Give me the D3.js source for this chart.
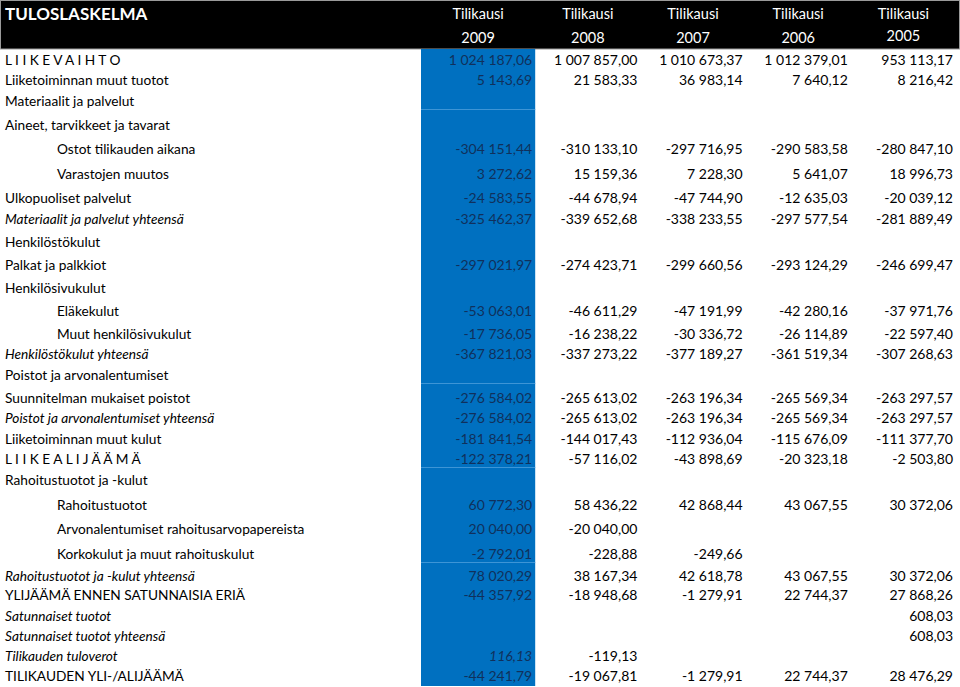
<!DOCTYPE html>
<html>
<head>
<meta charset="utf-8">
<script src="https://cdn.jsdelivr.net/npm/d3@7"></script>
<style>
  html, body { margin: 0; padding: 0; background: #fff; }
  svg { display: block; font-family: Lato, "Open Sans", sans-serif; }
</style>
</head>
<body>
<svg id="chart" width="960" height="687"></svg>
<script>
const TITLE = 'TULOSLASKELMA';
const YEARS = ['2009', '2008', '2007', '2006', '2005'];

const ROW_LABELS = [
  'L I I K E V A I H T O',
  'Liiketoiminnan muut tuotot',
  'Materiaalit ja palvelut',
  'Aineet, tarvikkeet ja tavarat',
  'Ostot tilikauden aikana',
  'Varastojen muutos',
  'Ulkopuoliset palvelut',
  'Materiaalit ja palvelut yhteensä',
  'Henkilöstökulut',
  'Palkat ja palkkiot',
  'Henkilösivukulut',
  'Eläkekulut',
  'Muut henkilösivukulut',
  'Henkilöstökulut yhteensä',
  'Poistot ja arvonalentumiset',
  'Suunnitelman mukaiset poistot',
  'Poistot ja arvonalentumiset yhteensä',
  'Liiketoiminnan muut kulut',
  'L I I K E A L I J Ä Ä M Ä',
  'Rahoitustuotot ja -kulut',
  'Rahoitustuotot',
  'Arvonalentumiset rahoitusarvopapereista',
  'Korkokulut ja muut rahoituskulut',
  'Rahoitustuotot ja -kulut yhteensä',
  'YLIJÄÄMÄ ENNEN SATUNNAISIA ERIÄ',
  'Satunnaiset tuotot',
  'Satunnaiset tuotot yhteensä',
  'Tilikauden tuloverot',
  'TILIKAUDEN YLI-/ALIJÄÄMÄ'
];
const INDENTED = [4, 5, 11, 12, 20, 21, 22];
const ITALIC_ROWS = [7, 13, 16, 23, 25, 26, 27];

const V2009 = [1024187.06, 5143.69, null, null, -304151.44, 3272.62, -24583.55, -325462.37, null, -297021.97, null, -53063.01, -17736.05, -367821.03, null, -276584.02, -276584.02, -181841.54, -122378.21, null, 60772.30, 20040.00, -2792.01, 78020.29, -44357.92, null, null, 116.13, -44241.79];
const V2008 = [1007857.00, 21583.33, null, null, -310133.10, 15159.36, -44678.94, -339652.68, null, -274423.71, null, -46611.29, -16238.22, -337273.22, null, -265613.02, -265613.02, -144017.43, -57116.02, null, 58436.22, -20040.00, -228.88, 38167.34, -18948.68, null, null, -119.13, -19067.81];
const V2007 = [1010673.37, 36983.14, null, null, -297716.95, 7228.30, -47744.90, -338233.55, null, -299660.56, null, -47191.99, -30336.72, -377189.27, null, -263196.34, -263196.34, -112936.04, -43898.69, null, 42868.44, null, -249.66, 42618.78, -1279.91, null, null, null, -1279.91];
const V2006 = [1012379.01, 7640.12, null, null, -290583.58, 5641.07, -12635.03, -297577.54, null, -293124.29, null, -42280.16, -26114.89, -361519.34, null, -265569.34, -265569.34, -115676.09, -20323.18, null, 43067.55, null, null, 43067.55, 22744.37, null, null, null, 22744.37];
const V2005 = [953113.17, 8216.42, null, null, -280847.10, 18996.73, -20039.12, -281889.49, null, -246699.47, null, -37971.76, -22597.40, -307268.63, null, -263297.57, -263297.57, -111377.70, -2503.80, null, 30372.06, null, null, 30372.06, 27868.26, 608.03, 608.03, null, 28476.29];
const SERIES = { '2009': V2009, '2008': V2008, '2007': V2007, '2006': V2006, '2005': V2005 };

// layout: spreadsheet row heights (px), like the sheet's own row sizes
const ROW_HEIGHTS = [19, 20, 21, 24, 24, 25, 24, 21, 23, 23, 23, 23, 23, 20, 21, 23, 20, 21, 20, 21, 25, 24, 25, 22, 19, 21, 20, 20, 20];
const HEADER_H = 49;
const BORDER_AFTER = [2, 14, 18, 22]; // faint cell borders inside the highlighted column

const fi = d3.formatLocale({ decimal: ',', thousands: '\u00a0', grouping: [3], currency: ['', ' €'], minus: '-' });
const fmt = fi.format(',.2f');

const svg = d3.select('#chart');
const W = 960;

// rows: cumulative tops mapped through a linear scale
const tops = [0];
ROW_HEIGHTS.forEach(h => tops.push(tops[tops.length - 1] + h));
const y = d3.scaleLinear().domain([0, tops[tops.length - 1]]).range([HEADER_H, HEADER_H + tops[tops.length - 1]]);
const rowBottom = i => y(tops[i + 1]);

const x = d3.scaleBand().domain(YEARS).range([430, 956]).paddingInner(0);
const colLeft = yr => yr === YEARS[0] ? x(yr) - 9 : x(yr);
const colRight = yr => x(yr) + x.bandwidth();
const colMid = yr => (colLeft(yr) + colRight(yr)) / 2;

// header band
svg.append('rect').attr('x', 0.5).attr('y', 0.5).attr('width', W - 1).attr('height', HEADER_H - 0.5)
  .attr('fill', '#000').attr('stroke', '#9a9a9a').attr('stroke-width', 1);
svg.append('text').attr('x', 5).attr('y', 20).attr('fill', '#fff')
  .attr('font-size', 17).attr('font-weight', 'bold').text(TITLE);

// highlighted current year column
svg.append('rect')
  .attr('x', colLeft(YEARS[0])).attr('y', HEADER_H)
  .attr('width', colRight(YEARS[0]) - colLeft(YEARS[0]))
  .attr('height', rowBottom(ROW_LABELS.length - 1) - HEADER_H + 2)
  .attr('fill', '#0070c0');
svg.selectAll('line.cellborder').data(BORDER_AFTER).join('line')
  .attr('class', 'cellborder')
  .attr('x1', colLeft(YEARS[0])).attr('x2', colRight(YEARS[0]))
  .attr('y1', i => rowBottom(i) + 0.5).attr('y2', i => rowBottom(i) + 0.5)
  .attr('stroke', '#3d95d6').attr('stroke-width', 1);

const head = svg.append('g').attr('fill', '#fff').attr('font-size', 14.5).attr('text-anchor', 'middle');
head.selectAll('text.tk').data(YEARS).join('text').attr('class', 'tk')
  .attr('x', colMid).attr('y', 19).text('Tilikausi');
head.selectAll('text.yr').data(YEARS).join('text').attr('class', 'yr')
  .attr('x', colMid).attr('y', d => d === '2005' ? 41 : 43).text(d => d);

// row labels
const rows = ROW_LABELS.map((label, i) => ({ label, i }));
svg.append('g').attr('font-size', 13.7).attr('fill', '#000')
  .selectAll('text').data(rows).join('text')
  .attr('x', d => INDENTED.includes(d.i) ? 57 : 5)
  .attr('y', d => rowBottom(d.i) - 3.5)
  .attr('font-style', d => ITALIC_ROWS.includes(d.i) ? 'italic' : 'normal')
  .text(d => d.label);

// value cells
const cells = [];
YEARS.forEach(yr => SERIES[yr].forEach((v, i) => { if (v != null) cells.push({ yr, i, v }); }));
svg.append('g').attr('font-size', 14).attr('text-anchor', 'end')
  .selectAll('text').data(cells).join('text')
  .attr('x', d => colRight(d.yr) - 3)
  .attr('y', d => rowBottom(d.i) - 3.5)
  .attr('fill', d => d.yr === YEARS[0] ? '#10305c' : '#000')
  .attr('font-style', d => d.yr === YEARS[0] && d.i === 27 ? 'italic' : 'normal')
  .text(d => fmt(d.v));
</script>
</body>
</html>
